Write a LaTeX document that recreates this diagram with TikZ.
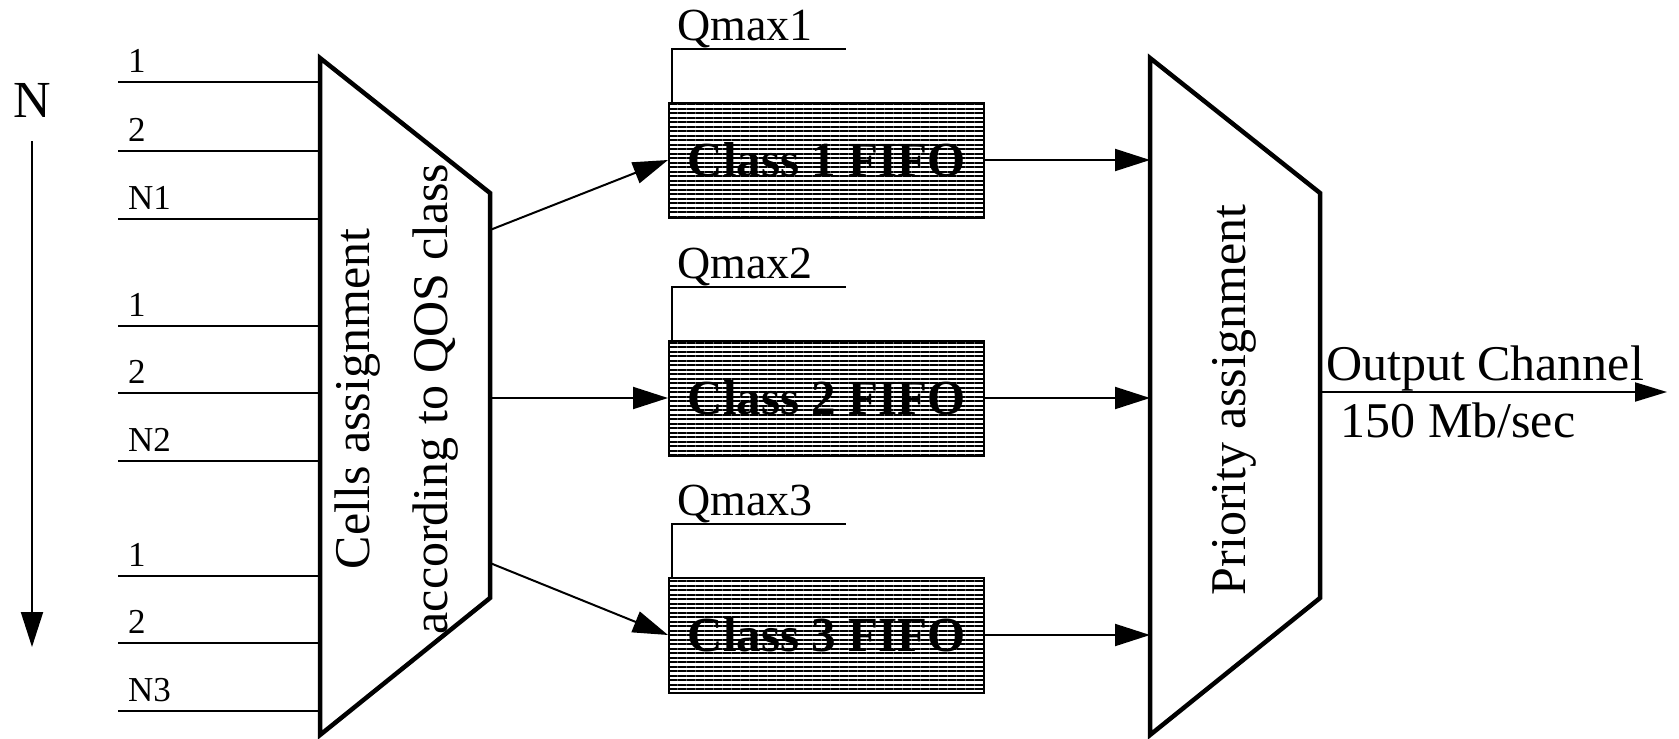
\documentclass[tikz,border=0pt]{standalone}
\usepackage{fontspec}
\setmainfont{Liberation Serif}
\usetikzlibrary{positioning,arrows.meta,patterns.meta}

\begin{document}
\begin{tikzpicture}[x=1pt,y=-1pt,>={Triangle[length=35pt,width=22pt]},
                    thinline/.style={line width=2pt},
                    thickline/.style={line width=4.5pt, line join=miter},
                    fifo/.style={draw, line width=2pt, minimum width=315pt, minimum height=115pt, inner sep=0pt,
                                 pattern={Lines[angle=0,distance=4.5pt,line width=2pt]},
                                 font=\fontsize{49}{60}\selectfont\bfseries},
                    inlbl/.style={anchor=base west, inner sep=0pt, font=\fontsize{35}{40}\selectfont},
                    qlbl/.style={anchor=base west, inner sep=0pt, font=\fontsize{46}{50}\selectfont},
                    bigtext/.style={inner sep=0pt, align=center, font=\fontsize{50}{78}\selectfont}]
\useasboundingbox (0,0) rectangle (1679,739);
% input side
\node[inner sep=0pt, font=\fontsize{52}{60}\selectfont] (nlbl) at (32,100) {N};
\coordinate (nend) at (32,647);
\draw[->, thinline, shorten <=24pt] (nlbl.south) -- (nend);
\coordinate (qos-nw) at (320,58);
\coordinate (qos-ne) at (490,193);
\coordinate (qos-se) at (490,598);
\coordinate (qos-sw) at (320,735);
\draw[thickline] (qos-nw) -- (qos-ne) -- (qos-se) -- (qos-sw) -- cycle;
\node[bigtext, rotate=90] (qoslbl) at (397,399) {Cells assignment\\according to QOS class};
\foreach \y/\t [count=\i] in {82/1,151/2,219/N1,326/1,393/2,461/N2,576/1,643/2,711/N3} {
  \coordinate (in\i) at (118,\y);
  \draw[thinline] (in\i) -- (in\i -| qos-nw);
  \node[inlbl] (inlbl\i) at (128,\y-10) {\t};
}
% class queues
\node[fifo] (fifo1) at (826.5,160) {Class 1 FIFO};
\node[fifo, below=121pt of fifo1] (fifo2) {Class 2 FIFO};
\node[fifo, below=120pt of fifo2] (fifo3) {Class 3 FIFO};
\foreach \i in {1,2,3} {
  \coordinate (qbend\i) at ([xshift=4pt,yshift=53pt]fifo\i.north west);
  \coordinate (qend\i) at ([xshift=178pt,yshift=53pt]fifo\i.north west);
  \draw[thinline] (qbend\i |- fifo\i.north) -- (qbend\i) -- (qend\i);
  \node[qlbl] (qmax\i) at ([xshift=5pt,yshift=8pt]qbend\i) {Qmax\i};
}
\coordinate (qos-o1) at (490,230);
\coordinate (qos-o3) at (490,563);
\draw[->, thinline] (qos-o1) -- (fifo1.west);
\draw[->, thinline] (fifo2.west -| qos-ne) -- (fifo2.west);
\draw[->, thinline] (qos-o3) -- (fifo3.west);
% output side
\coordinate (prio-nw) at (1150,58);
\coordinate (prio-ne) at (1320,193);
\coordinate (prio-se) at (1320,598);
\coordinate (prio-sw) at (1150,735);
\draw[thickline] (prio-nw) -- (prio-ne) -- (prio-se) -- (prio-sw) -- cycle;
\node[bigtext, rotate=90, anchor=base] (priolbl) at (1245,400) {Priority assignment};
\foreach \i in {1,2,3}
  \draw[->, thinline] (fifo\i.east) -- (fifo\i.east -| prio-nw);
\coordinate (prio-out) at (1320,392);
\coordinate (outend) at (1667,392);
\draw[->, thinline, >={Triangle[length=32pt,width=19pt]}] (prio-out) -- (outend);
\node[bigtext, anchor=base] (outlbl) at (1485,380) {Output Channel};
\node[bigtext, anchor=base] (ratelbl) at (1458,437) {150 Mb/sec};
\end{tikzpicture}
\end{document}
